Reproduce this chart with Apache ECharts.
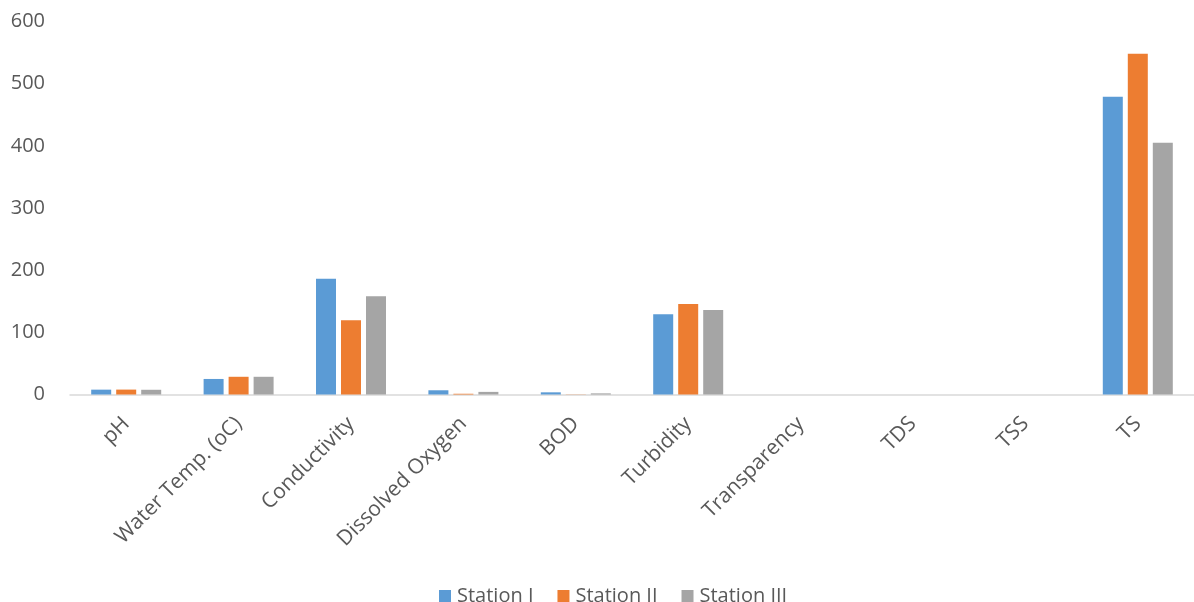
<!DOCTYPE html>
<html>
<head>
<meta charset="utf-8">
<script src="https://cdn.jsdelivr.net/npm/echarts@6/dist/echarts.min.js"></script>
<style>
html,body{margin:0;padding:0;background:#fff;}
#chart{width:1194px;height:602px;}
</style>
</head>
<body>
<div id="chart"></div>
<script>
const categories = ['pH','Water Temp. (oC)','Conductivity','Dissolved Oxygen','BOD','Turbidity','Transparency','TDS','TSS','TS'];
const seriesNames = ['Station I','Station II','Station III'];
const stationI   = [7.8, 25, 186, 6.8, 3.5, 129, 0, 0, 0, 479];
const stationII  = [7.9, 28.5, 119.5, 1.2, 0.3, 145.7, 0, 0, 0, 548];
const stationIII = [7.6, 28.5, 158, 4.2, 1.8, 136, 0, 0, 0, 405];
const colors = ['#5B9BD5','#ED7D31','#A5A5A5'];
const fontFam = '"Open Sans", "Noto Sans", sans-serif';

const chart = echarts.init(document.getElementById('chart'));
const data = [stationI, stationII, stationIII];
chart.setOption({
  animation: false,
  color: colors,
  textStyle: { fontFamily: fontFam },
  legend: {
    data: seriesNames,
    left: 434,
    top: 581,
    itemWidth: 12,
    itemHeight: 12,
    itemGap: 24,
    icon: 'rect',
    textStyle: { fontSize: 20, color: '#595959', fontFamily: fontFam, padding: [0,0,0,1] }
  },
  grid: { left: 70, right: -11, top: 21.5, bottom: 207.5, containLabel: false },
  xAxis: {
    type: 'category',
    data: categories,
    axisLine: { lineStyle: { color: '#D9D9D9', width: 1.5 } },
    axisTick: { show: false },
    axisLabel: { rotate: 45, fontSize: 21, color: '#595959', margin: 26, interval: 0, fontFamily: fontFam, padding: [0, 0, 0, 0] }
  },
  yAxis: {
    type: 'value',
    min: 0, max: 600, interval: 100,
    splitLine: { show: false },
    axisLine: { show: false },
    axisTick: { show: false },
    axisLabel: { fontSize: 20, color: '#595959', margin: 25, fontFamily: fontFam }
  },
  series: seriesNames.map((n, i) => ({
    name: n,
    type: 'bar',
    data: data[i],
    barWidth: 20,
    barGap: '25%',
    itemStyle: { color: colors[i] }
  }))
});
</script>
</body>
</html>
